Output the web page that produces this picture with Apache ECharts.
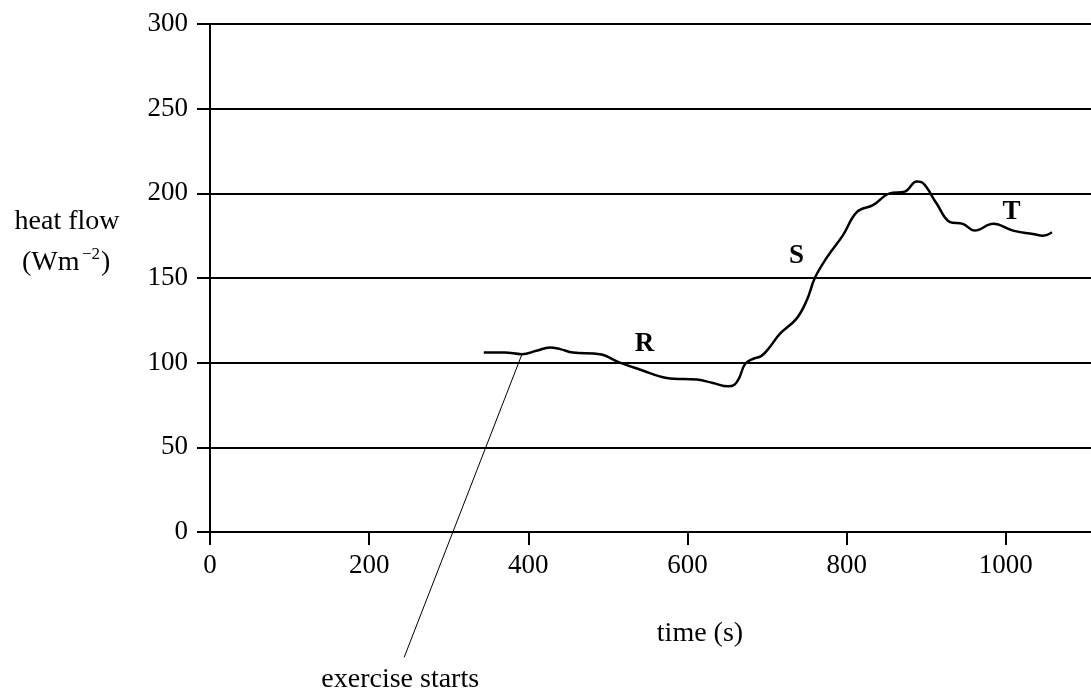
<!DOCTYPE html>
<html>
<head>
<meta charset="utf-8">
<script src="https://cdn.jsdelivr.net/npm/echarts@6/dist/echarts.min.js"></script>
<style>html,body{margin:0;padding:0;background:#fff}#c{width:1091px;height:693px}</style>
</head>
<body>
<div id="c"></div>
<script>
const timeValues = [344, 370, 392, 410, 427, 440, 456, 490, 515, 540, 574, 612, 632, 651, 659, 665, 672, 681, 693, 703, 716, 737, 750, 760, 775, 795, 813, 833, 854, 873, 888, 896, 913, 930, 946, 961, 984, 1009, 1034, 1047, 1058];
const heatFlow   = [106, 106, 105, 107, 109, 108, 106, 105, 100, 96, 91, 90, 88, 86, 87, 91, 99, 102, 104, 109, 117, 126, 137, 150, 162, 175, 189, 193, 200, 201, 207, 206, 194, 183, 182, 178, 182, 178, 176, 175, 177];
const pointLabels = [{t: 'R', x: 546, y: 111}, {t: 'S', x: 737, y: 163}, {t: 'T', x: 1007, y: 189}];
const pointerLine = [[392, 105], [244, -74]];
const yTicks = [0, 50, 100, 150, 200, 250, 300];
const xTicks = [0, 200, 400, 600, 800, 1000];

const font = 'Liberation Serif';
const chart = echarts.init(document.getElementById('c'));
chart.setOption({
  animation: false,
  grid: {left: 210, right: 0, top: 24, bottom: 161, containLabel: false},
  xAxis: {
    type: 'value', min: 0, max: 1107, interval: 200,
    axisLine: {show: true, lineStyle: {color: '#000', width: 2}},
    axisTick: {show: true, inside: false, length: 13, lineStyle: {color: '#000', width: 2}},
    axisLabel: {color: '#000', fontFamily: font, fontSize: 27, margin: 20, showMaxLabel: false,
      formatter: v => xTicks.includes(v) ? String(v) : ''},
    splitLine: {show: false}
  },
  yAxis: {
    type: 'value', min: 0, max: 300, interval: 50,
    axisLine: {show: true, lineStyle: {color: '#000', width: 2}},
    axisTick: {show: true, inside: false, length: 13, lineStyle: {color: '#000', width: 2}},
    axisLabel: {color: '#000', fontFamily: font, fontSize: 27, margin: 22,
      formatter: v => yTicks.includes(v) ? String(v) : ''},
    splitLine: {show: true, lineStyle: {color: '#000', width: 2}}
  },
  series: [
    {
      type: 'line', data: timeValues.map((t, i) => [t, heatFlow[i]]),
      smooth: 0.4, showSymbol: false, symbol: 'none',
      lineStyle: {color: '#000', width: 2.5}, z: 5
    },
    {
      type: 'line', data: pointerLine, clip: false, showSymbol: false, symbol: 'none',
      lineStyle: {color: '#000', width: 1}, z: 4
    }
  ]
});
const tip = chart.convertToPixel({gridIndex: 0}, pointerLine[1]);
const T = (text, x, y, size, align, weight) => ({type: 'text', x: x, y: y,
  style: {text: text, fontFamily: font, fontSize: size, fontWeight: weight || 'normal', fill: '#000', align: align || 'center', verticalAlign: 'middle'}});
const letterMarks = pointLabels.map(p => {
  const px = chart.convertToPixel({gridIndex: 0}, [p.x, p.y]);
  return T(p.t, px[0], px[1], 27, 'center', 'bold');
});
chart.setOption({
  graphic: [
    T('heat flow', 67, 222, 28),
    T('(Wm', 22, 263, 28, 'left'),
    T('\u22122', 82, 255, 17, 'left'),
    T(')', 101, 263, 28, 'left'),
    T('time (s)', 700, 634, 28),
    T('exercise starts', tip[0] - 4, tip[1] + 22, 28)
  ].concat(letterMarks)
});
</script>
</body>
</html>
